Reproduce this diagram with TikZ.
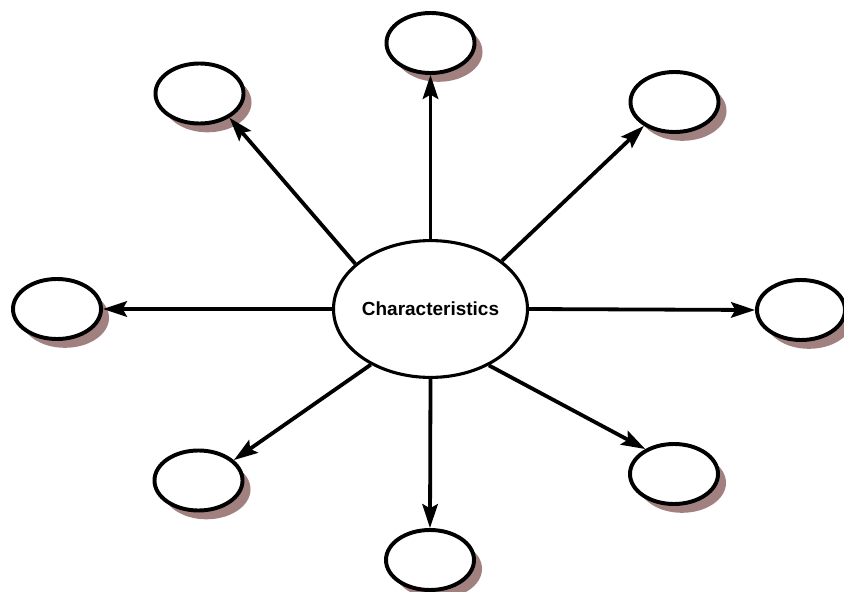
\documentclass[tikz,border=0pt]{standalone}
\usepackage{fontspec}
\setsansfont{Liberation Sans}
\usepackage{tikz}
\usetikzlibrary{shapes.geometric,arrows.meta,shadows}
\definecolor{shade}{rgb}{0.63,0.5,0.5}
\begin{document}
\begin{tikzpicture}[
x=0.025cm,y=-0.025cm,
font=\sffamily\bfseries,
hub/.style={draw,ellipse,line width=2.2pt,fill=white,minimum width=4.72cm,minimum height=3.42cm,inner sep=0pt},
leaf/.style={draw,ellipse,line width=2.8pt,fill=white,minimum width=2.2cm,minimum height=1.5cm,
  drop shadow={shadow xshift=0.2cm,shadow yshift=-0.22cm,fill=shade,opacity=1}},
to/.style={-{Stealth[length=17pt,width=11pt,inset=3pt]},line width=2.7pt}]

\useasboundingbox (0,0) rectangle (844,592);

\node[hub] (char) at (430.5,309) {\fontsize{13.5}{16}\selectfont Characteristics};

\node[leaf] (n) at (430.5,43) {};
\node[leaf] (nw) at (199.5,93.5) {};
\node[leaf] (ne) at (674.5,102) {};
\node[leaf] (w) at (57,309) {};
\node[leaf] (e) at (801,310) {};
\node[leaf] (sw) at (198.5,480.5) {};
\node[leaf] (se) at (674,474) {};
\node[leaf] (s) at (430,560) {};

\draw[to] (char.90) -- (n.270);
\draw[to] (char.149) -- (nw.321);
\draw[to] (char.34) -- (ne.218);
\draw[to] (char.180) -- (w.0);
\draw[to] (char.0) -- (e.180);
\draw[to] (char.223) -- (sw.30);
\draw[to] (char.316) -- (se.139);
\draw[to] (char.270) -- (s.90);
\end{tikzpicture}
\end{document}
